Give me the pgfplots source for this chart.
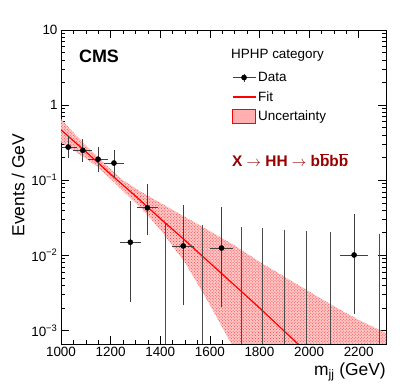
\documentclass[border=0pt]{standalone}
\usepackage{fontspec}
\setmainfont{Liberation Sans}
\usepackage{pgfplots}
\pgfplotsset{compat=1.18}
\usepgfplotslibrary{fillbetween}
\usetikzlibrary{patterns}
\definecolor{cmsred}{RGB}{153,0,0}
\definecolor{bandpink}{RGB}{255,175,175}
\newcommand\bbar{$\overline{\mbox{b}}$}

\begin{document}
\begin{tikzpicture}
\begin{axis}[
  scale only axis, width=325bp, height=314bp,
  ymode=log,
  xmin=1000, xmax=2310, ymin=6.6e-4, ymax=10,
  xtick={1000,1200,...,2200}, minor x tick num=3,
  ytick={1e-3,1e-2,1e-1,1,10},
  yticklabels={10\textsuperscript{−3},10\textsuperscript{−2},10\textsuperscript{−1},1,10},
  /pgf/number format/assume math mode=true,
  /pgf/number format/1000 sep={},
  tick label style={font=\fontsize{13.5}{16}\selectfont},
  major tick length=8bp, minor tick length=4bp,
  tick style={black, line width=0.6bp},
  axis line style={line width=0.8bp},
  xlabel={m\textsubscript{jj} (GeV)},
  ylabel={Events / GeV},
  label style={font=\fontsize{17.5}{20}\selectfont},
  xlabel style={at={(rel axis cs:1,-0.089)}, anchor=east, inner sep=0pt},
  ylabel style={at={(rel axis cs:-0.132,0.506)}, anchor=center, inner sep=0pt},
  legend style={draw=none, fill=none, at={(rel axis cs:0.526,0.872)}, anchor=north west,
    font=\fontsize{13.5}{16}\selectfont, row sep=4.5bp, inner sep=0pt, outer sep=0pt},
  legend cell align=left,
  reverse legend,
]
% uncertainty band
\addplot[name path=up, draw=none, forget plot] coordinates {
  (1000,0.65) (1050,0.43) (1100,0.29) (1150,0.20) (1200,0.14) (1250,0.10)
  (1300,0.078) (1350,0.062) (1400,0.050) (1500,0.0325) (1600,0.0210)
  (1700,0.0135) (1800,0.0082) (1900,0.0052) (2000,0.0033) (2100,0.0021)
  (2200,0.00138) (2310,0.00092)};
\addplot[name path=lo, draw=none, forget plot] coordinates {
  (1000,0.32) (1050,0.25) (1100,0.195) (1150,0.148) (1200,0.104) (1250,0.072)
  (1300,0.050) (1350,0.034) (1400,0.022) (1500,0.0080) (1600,0.0022)
  (1700,0.00055) (1800,0.00012) (1900,2.5e-5) (2000,5e-6) (2100,1e-6)
  (2200,2e-7) (2310,4e-8)};
\addplot[fill=red!22, draw=none, forget plot] fill between[of=up and lo];
\addplot[pattern=crosshatch dots, pattern color=red!80, draw=none, forget plot]
  fill between[of=up and lo];
\addlegendimage{legend image code/.code={%
    \path[fill=bandpink, draw=red, line width=0.6bp] (0bp,-7bp) rectangle (23bp,7bp);}}
\addlegendentry{Uncertainty}
% fit
\addplot[red, line width=1.2bp,
  legend image code/.code={\draw[red, line width=1.2bp] (0bp,0bp)--(23bp,0bp);}]
  coordinates {
  (1000,0.468) (1100,0.240) (1200,0.120) (1300,0.0617) (1400,0.0309)
  (1500,0.0158) (1600,0.00794) (1700,0.00398) (1800,0.00200)
  (1900,0.000977) (2000,0.000479)};
\addlegendentry{Fit}
% empty bins: upper limits only
\addplot[forget plot, only marks, mark=none,
  error bars/.cd, y dir=plus, y explicit,
  error bar style={black!70, line width=0.8bp},
  error mark options={black!70, mark size=2bp, line width=0.8bp}]
  coordinates {
  (1419,1e-5) += (0,0.02557)
  (1568.5,1e-5) += (0,0.02391)
  (1728.5,1e-5) += (0,0.02218)
  (1813,1e-5) += (0,0.02141)
  (1900.5,1e-5) += (0,0.02069)
  (1991,1e-5) += (0,0.02001)
  (2084.5,1e-5) += (0,0.01938)
  (2281.5,1e-5) += (0,0.01823)};
% data
\addplot[only marks, mark=*, mark size=2.6bp, black,
  legend image code/.code={\draw[black!75, line width=0.8bp] (0bp,0bp)--(23bp,0bp) (11.5bp,-4bp)--(11.5bp,4bp);
    \fill[black] (11.5bp,0bp) circle (2.6bp);},
  error bars/.cd, x dir=both, x explicit, y dir=both, y explicit,
  error bar style={black!75, line width=0.8bp},
  error mark options={black!75, mark size=2bp, line width=0.8bp}]
  coordinates {
  (1029,0.2759) += (29,0.0877) -= (29,0.0685)
  (1088,0.2500) += (30,0.0828) -= (30,0.0640)
  (1149.5,0.1905) += (31.5,0.0725) -= (31.5,0.0545)
  (1213.5,0.1692) += (32.5,0.0682) -= (32.5,0.0504)
  (1279.5,0.01493) += (33.5,0.0343) -= (33.5,0.01235)
  (1348,0.04286) += (35,0.0417) -= (35,0.0233)
  (1492.5,0.01333) += (37.5,0.0307) -= (37.5,0.01102)
  (1647,0.0125) += (40,0.02875) -= (40,0.01034)
  (2181.5,0.0101) += (49.5,0.02323) -= (49.5,0.00835)};
\addlegendentry{Data}

\node[anchor=west, inner sep=0pt, font=\fontsize{18}{20}\selectfont\bfseries] at (rel axis cs:0.055,0.917) {CMS};
\node[anchor=west, inner sep=0pt, font=\fontsize{13.5}{16}\selectfont] at (rel axis cs:0.523,0.920) {HPHP category};
\node[anchor=west, inner sep=0pt, text=cmsred, font=\fontsize{15.5}{18}\selectfont\bfseries] at (rel axis cs:0.526,0.586) {X $\rightarrow$ HH $\rightarrow$ b\bbar b\bbar};
\node[anchor=east, inner sep=0pt, font=\fontsize{13}{15}\selectfont] at (rel axis cs:1,1.041) {19.7 fb\textsuperscript{−1} (8 TeV)};
\end{axis}
\pgfresetboundingbox
\path ([shift={(-61bp,-47bp)}]current axis.south west) rectangle ([shift={(21bp,30bp)}]current axis.north east);
\end{tikzpicture}
\end{document}
